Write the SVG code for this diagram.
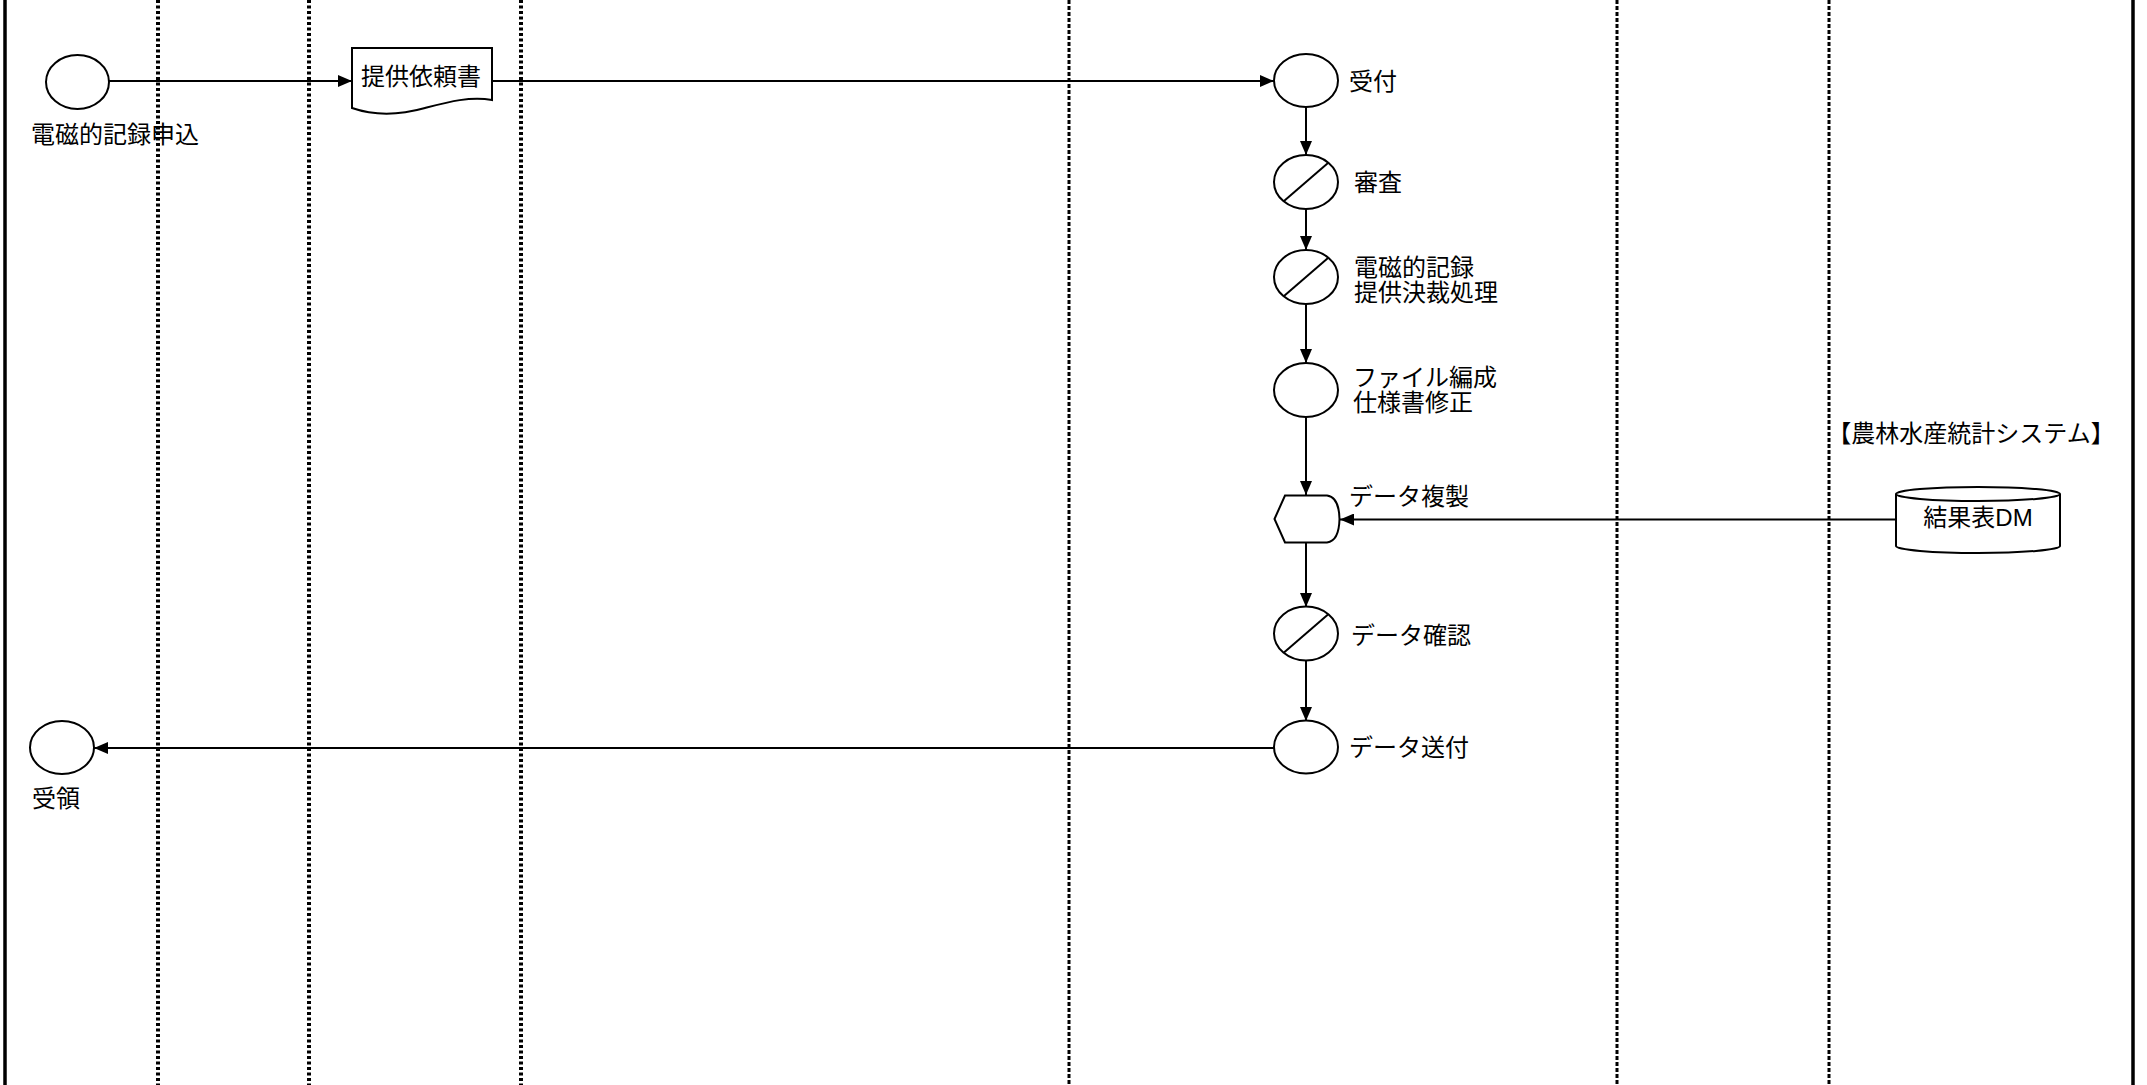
<svg xmlns="http://www.w3.org/2000/svg" width="2147" height="1085" viewBox="0 0 2147 1085">
<style>
.bg{fill:#ffffff}
.border{stroke:#000;stroke-width:3.5;fill:none}
.lane1{stroke:#000;stroke-width:4;stroke-dasharray:3 2.5;fill:none}
.lane2{stroke:#000;stroke-width:3;stroke-dasharray:4 2;fill:none}
.shape{fill:#fff;stroke:#000;stroke-width:2}
.slash{stroke:#000;stroke-width:2;fill:none}
.conn{stroke:#000;stroke-width:2;fill:none}
.t{font-family:"Liberation Sans","Noto Sans CJK JP",sans-serif;font-size:24px;fill:#000;dominant-baseline:central}
.c{text-anchor:middle}
</style>
<defs>
<marker id="arr" markerUnits="userSpaceOnUse" markerWidth="14" markerHeight="12" refX="14" refY="6" orient="auto">
<path d="M0,0 L14,6 L0,12 Z" fill="#000"/>
</marker>
</defs>
<rect class="bg" x="0" y="0" width="2147" height="1085"/>
<g id="lanes">
<line class="border" x1="5" y1="0" x2="5" y2="1085"/>
<line class="border" x1="2133" y1="0" x2="2133" y2="1085"/>
<line class="lane1" x1="158" y1="0" x2="158" y2="1085"/>
<line class="lane1" x1="309" y1="0" x2="309" y2="1085"/>
<line class="lane1" x1="521" y1="0" x2="521" y2="1085"/>
<line class="lane2" x1="1069" y1="0" x2="1069" y2="1085"/>
<line class="lane2" x1="1617" y1="0" x2="1617" y2="1085"/>
<line class="lane2" x1="1829" y1="0" x2="1829" y2="1085"/>
</g>
<g id="connectors">
<path class="conn" d="M109,81 H352" marker-end="url(#arr)"/>
<path class="conn" d="M492,81 H1274" marker-end="url(#arr)"/>
<path class="conn" d="M1306,107 V155" marker-end="url(#arr)"/>
<path class="conn" d="M1306,209 V250" marker-end="url(#arr)"/>
<path class="conn" d="M1306,304 V363" marker-end="url(#arr)"/>
<path class="conn" d="M1306,417 V495" marker-end="url(#arr)"/>
<path class="conn" d="M1896,519.5 H1340" marker-end="url(#arr)"/>
<path class="conn" d="M1306,543 V607" marker-end="url(#arr)"/>
<path class="conn" d="M1306,660 V721" marker-end="url(#arr)"/>
<path class="conn" d="M1274,748 H94" marker-end="url(#arr)"/>
</g>
<g id="n-start">
<ellipse class="shape" cx="77.5" cy="82" rx="31.5" ry="27"/>
<text class="t" x="31" y="134">電磁的記録申込</text>
</g>
<g id="n-doc">
<path class="shape" d="M352,48 H492 V100 C470,96 448,102 425,108 C400,115 375,116 352,108 Z"/>
<text class="t c" x="421" y="76">提供依頼書</text>
</g>
<g id="n-uketsuke">
<ellipse class="shape" cx="1306" cy="80.5" rx="32" ry="26.5"/>
<text class="t" x="1349" y="81">受付</text>
</g>
<g id="n-shinsa">
<ellipse class="shape" cx="1306" cy="182" rx="32" ry="27"/>
<line class="slash" x1="1284" y1="201" x2="1328" y2="163"/>
<text class="t" x="1354" y="182">審査</text>
</g>
<g id="n-kessai">
<ellipse class="shape" cx="1306" cy="277" rx="32" ry="27"/>
<line class="slash" x1="1284" y1="296" x2="1328" y2="258"/>
<text class="t" x="1354" y="267">電磁的記録</text>
<text class="t" x="1354" y="292">提供決裁処理</text>
</g>
<g id="n-file">
<ellipse class="shape" cx="1306" cy="390" rx="32" ry="27"/>
<text class="t" x="1353" y="377">ファイル編成</text>
<text class="t" x="1353" y="402">仕様書修正</text>
</g>
<g id="n-fukusei">
<path class="shape" d="M1274.5,519 L1285,495.5 H1327 Q1339,497 1339.5,519 Q1339,541 1327,542.5 H1285 Z"/>
<text class="t" x="1349" y="496">データ複製</text>
</g>
<g id="n-kakunin">
<ellipse class="shape" cx="1306" cy="633.5" rx="32" ry="27"/>
<line class="slash" x1="1284" y1="652.5" x2="1328" y2="614.5"/>
<text class="t" x="1351" y="635">データ確認</text>
</g>
<g id="n-soufu">
<ellipse class="shape" cx="1306" cy="747" rx="32" ry="26.5"/>
<text class="t" x="1349" y="747">データ送付</text>
</g>
<g id="n-juryo">
<ellipse class="shape" cx="62" cy="747.5" rx="32" ry="26.5"/>
<text class="t" x="32" y="798">受領</text>
</g>
<g id="n-system">
<text class="t c" x="1971" y="433">【農林水産統計システム】</text>
</g>
<g id="n-dm">
<path class="shape" d="M1896,494 V546 A82,7 0 0 0 2060,546 V494"/>
<ellipse class="shape" cx="1978" cy="494" rx="82" ry="7"/>
<text class="t c" x="1978" y="517">結果表DM</text>
</g>
</svg>
